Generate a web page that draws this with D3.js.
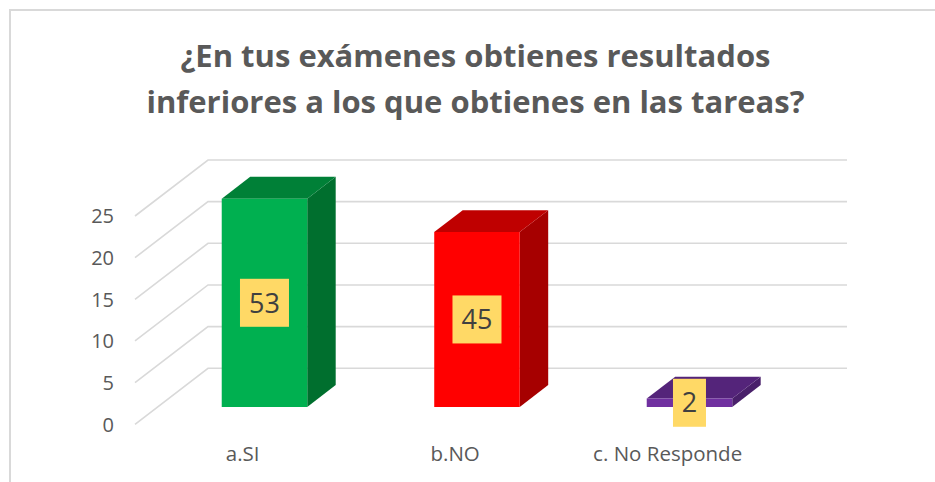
<!DOCTYPE html>
<html><head><meta charset="utf-8">
<script src="https://cdnjs.cloudflare.com/ajax/libs/d3/7.8.5/d3.min.js"></script>
<style>html,body{margin:0;padding:0;background:#fff}svg{display:block}</style>
</head><body><svg id="c" width="935" height="482"></svg>
<script>
const titleLines = ["¿En tus exámenes obtienes resultados", "inferiores a los que obtienes en las tareas?"];
const categories = ["a.SI", "b.NO", "c. No Responde"];
const values = [25, 21, 1];
const labels = ["53", "45", "2"];
const yTicks = [0, 5, 10, 15, 20, 25];
const frontColors = ["#00B050", "#FF0000", "#7030A0"];
const topColors = ["#008037", "#BF0000", "#54247A"];
const sideColors = ["#006F2E", "#A60000", "#49206A"];

const svg = d3.select("#c");
const font = "'Open Sans', sans-serif";
// frame
svg.append("path").attr("d", "M10 482V10H935").attr("fill", "none").attr("stroke", "#d9d9d9").attr("stroke-width", 2);

const x = d3.scaleBand().domain(categories).range([135.6, 773.1]);
const y = d3.scaleLinear().domain([0, 25]).range([424.3, 216]);
const gridLeft = 135, floorDx = 73, floorDy = -56, gridRight = 847;
const barOff = 0.31, barDepth = 0.39, barW = 85.5;

// gridlines
const grid = svg.append("g");
yTicks.forEach(t => {
  const p = d3.path();
  p.moveTo(gridLeft, y(t));
  p.lineTo(gridLeft + floorDx, y(t) + floorDy);
  p.lineTo(gridRight, y(t) + floorDy);
  grid.append("path").attr("d", p.toString()).attr("fill", "none").attr("stroke", "#d9d9d9").attr("stroke-width", 1.6);
});

// y labels
svg.append("g").selectAll("text").data(yTicks).join("text")
  .attr("x", 114).attr("y", d => y(d)).attr("dy", "0.36em").attr("text-anchor", "end")
  .attr("font-family", font).attr("font-size", 20).attr("fill", "#595959").text(d => d);

// x labels
svg.append("g").selectAll("text").data(categories).join("text")
  .attr("x", d => x(d) + x.bandwidth() / 2 + 0.8).attr("y", 454).attr("dy", "0.36em").attr("text-anchor", "middle")
  .attr("font-family", font).attr("font-size", 20.5).attr("fill", "#595959").text(d => d);

// bars
const ox = floorDx * barOff, oy = floorDy * barOff;
const dx = floorDx * barDepth, dy = floorDy * barDepth;
const bars = svg.append("g");
categories.forEach((c, i) => {
  const cx = x(c) + x.bandwidth() / 2 + ox;
  const l = cx - barW / 2, r = cx + barW / 2;
  const b = y(0) + oy, t = y(values[i]) + oy;
  const poly = (pts, fill) => bars.append("polygon").attr("points", pts.map(p => p.join(",")).join(" ")).attr("fill", fill);
  poly([[r, b], [r + dx, b + dy], [r + dx, t + dy], [r, t]], sideColors[i]);
  poly([[l, t], [r, t], [r + dx, t + dy], [l + dx, t + dy]], topColors[i]);
  poly([[l, t], [r, t], [r, b], [l, b]], frontColors[i]);
});

// data labels
const boxH = 48, boxW = [49, 49, 33];
categories.forEach((c, i) => {
  const cx = x(c) + x.bandwidth() / 2 + ox;
  const cy = (y(0) + y(values[i])) / 2 + oy;
  svg.append("rect").attr("x", cx - boxW[i] / 2).attr("y", cy - boxH / 2).attr("width", boxW[i]).attr("height", boxH).attr("fill", "#FFD966");
  svg.append("text").attr("x", cx).attr("y", cy).attr("dy", "0.36em").attr("text-anchor", "middle")
    .attr("font-family", font).attr("font-size", 27).attr("fill", "#404040").text(labels[i]);
});

// title
svg.append("g").selectAll("text").data(titleLines).join("text")
  .attr("x", 475.5).attr("y", (d, i) => 67 + i * 45.5).attr("text-anchor", "middle")
  .attr("font-family", font).attr("font-weight", 700).attr("font-size", 31).attr("fill", "#595959").text(d => d);
</script></body></html>
